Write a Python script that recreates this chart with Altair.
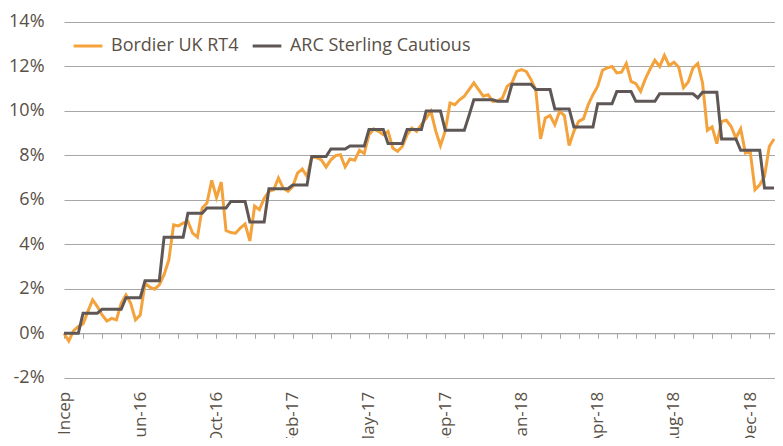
import altair as alt
import pandas as pd

# x-axis labels (every 16 weekly observations)
label_text = ["Incep", "Jun-16", "Oct-16", "Feb-17", "May-17",
              "Sep-17", "Jan-18", "Apr-18", "Aug-18", "Dec-18"]

series_names = ["Bordier UK RT4", "ARC Sterling Cautious"]

# weekly cumulative performance, %
bordier = [
    0.00, -0.35, 0.12, 0.30, 0.42, 0.97, 1.50, 1.20, 0.82, 0.55,
    0.67, 0.60, 1.35, 1.72, 1.35, 0.60, 0.82, 2.25, 2.07, 1.98,
    2.18, 2.63, 3.30, 4.88, 4.83, 4.95, 5.03, 4.50, 4.32, 5.63,
    5.86, 6.88, 6.10, 6.80, 4.62, 4.53, 4.50, 4.73, 4.92, 4.15,
    5.72, 5.56, 6.06, 6.38, 6.45, 6.98, 6.53, 6.38, 6.60, 7.20,
    7.39, 7.05, 7.93, 7.90, 7.80, 7.48, 7.80, 7.99, 8.03, 7.48,
    7.84, 7.78, 8.23, 8.08, 8.93, 9.19, 9.08, 8.93, 9.08, 8.33,
    8.18, 8.40, 8.93, 9.23, 9.08, 9.38, 9.68, 9.98, 9.10, 8.44,
    9.10, 10.36, 10.28, 10.50, 10.66, 10.96, 11.26, 10.96, 10.66, 10.73,
    10.43, 10.46, 10.58, 11.11, 11.26, 11.78, 11.86, 11.78, 11.41, 10.96,
    8.74, 9.68, 9.79, 9.38, 9.98, 9.79, 8.44, 9.08, 9.53, 9.64,
    10.28, 10.73, 11.11, 11.83, 11.94, 12.00, 11.71, 11.74, 12.13, 11.33,
    11.23, 10.88, 11.44, 11.89, 12.28, 12.00, 12.50, 12.04, 12.19, 11.96,
    11.04, 11.30, 11.94, 12.13, 11.26, 9.13, 9.28, 8.53, 9.53, 9.58,
    9.30, 8.78, 9.20, 8.11, 8.18, 6.46, 6.68, 7.05, 8.40, 8.74,
]

arc = [
    0.00, 0.00, 0.00, 0.00, 0.90, 0.90, 0.90, 0.90, 1.08, 1.08,
    1.08, 1.08, 1.08, 1.60, 1.60, 1.60, 1.60, 2.36, 2.36, 2.36,
    2.36, 4.32, 4.32, 4.32, 4.32, 4.32, 5.40, 5.40, 5.40, 5.40,
    5.63, 5.63, 5.63, 5.63, 5.63, 5.93, 5.93, 5.93, 5.93, 5.00,
    5.00, 5.00, 5.00, 6.50, 6.50, 6.50, 6.50, 6.50, 6.67, 6.67,
    6.67, 6.67, 7.95, 7.95, 7.95, 7.95, 8.29, 8.29, 8.29, 8.29,
    8.42, 8.42, 8.42, 8.42, 9.16, 9.16, 9.16, 9.16, 8.53, 8.53,
    8.53, 8.53, 9.16, 9.16, 9.16, 9.16, 10.00, 10.00, 10.00, 10.00,
    9.13, 9.13, 9.13, 9.13, 9.13, 9.80, 10.50, 10.50, 10.50, 10.50,
    10.50, 10.43, 10.43, 10.43, 11.20, 11.20, 11.20, 11.20, 11.20, 10.96,
    10.96, 10.96, 10.96, 10.09, 10.09, 10.09, 10.09, 9.28, 9.28, 9.28,
    9.28, 9.28, 10.32, 10.32, 10.32, 10.32, 10.87, 10.87, 10.87, 10.87,
    10.43, 10.43, 10.43, 10.43, 10.43, 10.77, 10.77, 10.77, 10.77, 10.77,
    10.77, 10.77, 10.77, 10.59, 10.84, 10.84, 10.84, 10.84, 8.74, 8.74,
    8.74, 8.74, 8.23, 8.23, 8.23, 8.23, 8.23, 6.53, 6.53, 6.53,
]

y_ticks = [-2, 0, 2, 4, 6, 8, 10, 12, 14]

rows = []
for i, v in enumerate(bordier):
    rows.append({"week": i, "series": series_names[0], "value": v})
for i, v in enumerate(arc):
    rows.append({"week": i, "series": series_names[1], "value": v})
df = pd.DataFrame(rows)

ORANGE = "#F4A23B"
GREY = "#5f5756"
TEXT = "#595046"
GRID = "#a6a6a6"
FONT = "Open Sans"

labels_js = "[" + ",".join("'" + t + "'" for t in label_text) + "]"

x_enc = alt.X(
    "week:Q",
    scale=alt.Scale(domain=[0, 149.2], nice=False, zero=False),
    axis=alt.Axis(
        title=None,
        values=list(range(0, 149, 4)),
        offset=-44.4,
        grid=False,
        domain=True,
        domainColor=GRID,
        domainWidth=1,
        ticks=True,
        tickSize=5,
        tickColor=GRID,
        tickWidth=1,
        labelAngle=270,
        labelPadding=53,
        labelFontSize=17,
        labelFont=FONT,
        labelColor=TEXT,
        labelOverlap=False,
        labelFlush=False,
        labelBound=False,
        labelExpr="datum.value % 16 == 0 ? " + labels_js + "[datum.value / 16] : ''",
    ),
)

y_enc = alt.Y(
    "value:Q",
    scale=alt.Scale(domain=[-2, 14], nice=False, zero=False),
    axis=alt.Axis(
        title=None,
        values=y_ticks,
        grid=True,
        gridColor=GRID,
        gridWidth=1,
        domain=False,
        ticks=False,
        labelPadding=20,
        labelFontSize=18,
        labelFont=FONT,
        labelColor=TEXT,
        labelExpr="datum.value + '%'",
    ),
)

color_enc = alt.Color(
    "series:N",
    scale=alt.Scale(domain=series_names, range=[ORANGE, GREY]),
    legend=alt.Legend(
        title=None,
        orient="none",
        legendX=8,
        legendY=8,
        direction="horizontal",
        symbolType="stroke",
        symbolSize=824,
        symbolStrokeWidth=3,
        labelFontSize=18,
        labelFont=FONT,
        labelColor=TEXT,
        labelOffset=7,
        labelLimit=400,
        columnPadding=7,
        padding=0,
    ),
)

base = alt.Chart(df).mark_line(strokeWidth=3, interpolate="linear").encode(
    x=x_enc, y=y_enc, color=color_enc
)

orange_layer = base.transform_filter(alt.datum.series == series_names[0])
grey_layer = base.transform_filter(alt.datum.series == series_names[1])

chart = alt.layer(orange_layer, grey_layer).properties(
    width=711,
    height=355.7,
    autosize=alt.AutoSizeParams(type="none"),
    padding={"left": 56, "top": 14, "right": 0, "bottom": 60},
).configure(font=FONT).configure_view(strokeWidth=0)

chart.save("out.html", embed_options={"renderer": "svg", "actions": False})
